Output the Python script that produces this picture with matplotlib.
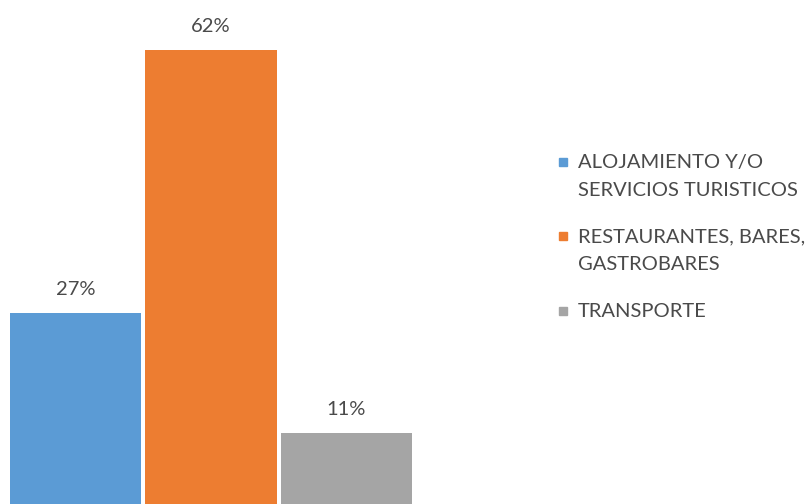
import matplotlib.pyplot as plt
from matplotlib.patches import Rectangle

categories = ['ALOJAMIENTO Y/O\nSERVICIOS TURISTICOS',
              'RESTAURANTES, BARES,\nGASTROBARES',
              'TRANSPORTE']
values = [27, 62, 11]
colors = ['#5B9BD5', '#ED7D31', '#A5A5A5']

plt.rcParams['font.family'] = ['Lato', 'DejaVu Sans']
text_color = '#4a4a4a'

fig = plt.figure(figsize=(8.12, 5.04), dpi=100)
ax = fig.add_axes([0, 0, 420 / 812, 1])

x = range(len(values))
bars = ax.bar(x, values, width=0.967, color=colors)
for b, v in zip(bars, values):
    ax.annotate(f'{v}%', (b.get_x() + b.get_width() / 2, v),
                xytext=(0, 17), textcoords='offset points',
                ha='center', va='center', fontsize=14.5, color=text_color)

ax.set_xlim(-0.557, 2.542)
ax.set_ylim(1.6, 68.6)
ax.axis('off')

# legend, drawn by hand so the square sits on the first text line
W, H = 812, 504
tops = [162, 236, 311]
for label, c, ty in zip(categories, colors, tops):
    fig.add_artist(Rectangle((559 / W, 1 - (ty + 4) / H), 8 / W, 8 / H,
                             transform=fig.transFigure, color=c))
    fig.text(578 / W, 1 - (ty - 8) / H, label, fontsize=14.5, color=text_color,
             ha='left', va='top', linespacing=1.75)

fig.savefig('out.png', dpi=100)
